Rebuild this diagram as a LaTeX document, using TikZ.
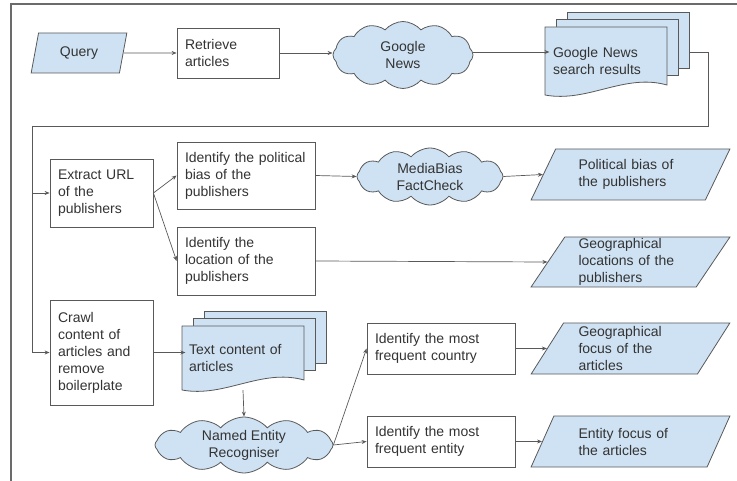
\documentclass[tikz,border=0pt]{standalone}
\usepackage{fontspec}
\setmainfont{Liberation Sans}
\usepackage{xcolor}
\usetikzlibrary{arrows.meta, positioning, shapes.geometric, shapes.symbols}

\definecolor{boxline}{HTML}{595959}
\definecolor{framegray}{HTML}{6B6B6B}
\definecolor{textgray}{HTML}{333333}
\definecolor{dataBlue}{HTML}{CFE2F3}

% stacked documents: left, top, width, height of the front page
\newcommand{\docpages}[4]{%
  \foreach \k in {2,1}
    \filldraw[docpage] ({#1+11*\k},{#2-7.5*\k}) rectangle ({#1+#3+11*\k},{#2+#4-12-7.5*\k});
  \filldraw[docpage] (#1,#2) -- ({#1+#3},#2) -- ({#1+#3},{#2+#4-10})
    .. controls ({#1+0.65*#3},{#2+#4-22}) and ({#1+0.35*#3},{#2+#4+8}) .. (#1,{#2+#4}) -- cycle;
}

\begin{document}
\begin{tikzpicture}[x=1pt, y=-1pt,
    every node/.style={text=textgray, font=\fontsize{14}{17}\selectfont},
    procbox/.style={draw=boxline, line width=0.8pt, align=left, inner xsep=8pt, inner ysep=0pt},
    dataio/.style={trapezium, trapezium stretches=true, draw=boxline, fill=dataBlue,
        line width=0.8pt, inner sep=0pt, align=left, trapezium left angle=60.4,
        trapezium right angle=119.6, minimum width=199pt, minimum height=51pt, text width=104pt},
    source/.style={cloud, cloud puffs=12, cloud puff arc=100, cloud ignores aspect, draw=boxline,
        fill=dataBlue, line width=0.8pt, inner sep=0pt, align=center},
    docpage/.style={draw=boxline, fill=dataBlue, line width=0.8pt},
    flow/.style={draw=boxline, line width=0.7pt, -{Stealth[length=5pt, width=4pt]}},
    frame/.style={draw=framegray, line width=1.3pt}]
    \useasboundingbox (0,0) rectangle (737,481);
    \draw[frame] (11,481) -- (11,4) -- (737,4);

    % first row: search
    \node[dataio, trapezium left angle=74.6, trapezium right angle=105.4,
        minimum width=96pt, minimum height=40pt, text width=, align=center] (query) at (79,53) {Query};
    \node[procbox, text width=86pt, minimum height=50pt] (retrieve) at (228,53) {Retrieve\\articles};
    \node[source, minimum width=140pt, minimum height=67pt] (gnews) at (403,55) {Google\\News};
    \docpages{545}{27}{122}{68}
    \node[align=left, text width=106pt, minimum height=68pt] (results) at (606,61) {Google News\\search results};
    \coordinate (resback) at (689,52);
    \coordinate (loopR) at (708,126);
    \coordinate (loopL) at (32,126);

    % publishers
    \node[procbox, text width=87pt, minimum height=68pt] (extract) at (101.5,193) {Extract URL\\of the\\publishers};
    \node[procbox, text width=122pt, minimum height=67pt] (political) at (246,175.5) {Identify the political\\bias of the\\publishers};
    \node[procbox, text width=122pt, minimum height=68pt] (location) at (246,261) {Identify the\\location of the\\publishers};
    \node[source, minimum width=146pt, minimum height=57pt] (mbfc) at (430,176.5) {MediaBias\\FactCheck};
    \node[dataio] (polbias) at (630.5,174.5) {Political bias of\\the publishers};
    \node[dataio, minimum height=50pt] (geoloc) at (630.5,262) {Geographical\\locations of the\\publishers};

    % article content
    \node[procbox, text width=87pt, minimum height=105pt] (crawl) at (101.5,352.5) {Crawl\\content of\\articles and\\remove\\boilerplate};
    \docpages{182}{326}{122}{64}
    \node[align=left, text width=108pt, minimum height=64pt] (txt) at (243,358) {Text content of\\articles};
    \node[source, minimum width=178pt, minimum height=56pt] (ner) at (244,445) {Named Entity\\Recogniser};
    \node[procbox, text width=132pt, minimum height=51pt] (country) at (441,348.5) {Identify the most\\frequent country};
    \node[procbox, text width=132pt, minimum height=51pt] (entity) at (441,441.5) {Identify the most\\frequent entity};
    \node[dataio] (geofocus) at (630.5,348.5) {Geographical\\focus of the\\articles};
    \node[dataio] (entfocus) at (630.5,441.5) {Entity focus of\\the articles};

    % connectors
    \draw[flow] (query) -- (retrieve);
    \draw[flow] (retrieve.east) -- (retrieve.east -| gnews.west);
    \draw[flow] (gnews.east |- resback) -- (resback -| results.west);
    \draw[flow] (resback) -| (loopR) -- (loopL) |- (crawl.west);
    \draw[flow] (loopL) |- (extract.west);
    \draw[flow] (extract.east) -- (political.west);
    \draw[flow] (extract.east) -- (location.west);
    \draw[flow] (political.east) -- (mbfc.west);
    \draw[flow] (mbfc.east) -- (polbias.west);
    \draw[flow] (location.east) -- (geoloc.west);
    \draw[flow] (crawl.east) -- (crawl.east -| txt.west);
    \draw[flow] (txt.south) -- (ner.north);
    \draw[flow] (ner.east) -- (country.west);
    \draw[flow] (ner.east) -- (entity.west);
    \draw[flow] (country) -- (geofocus);
    \draw[flow] (entity) -- (entfocus);
\end{tikzpicture}
\end{document}
